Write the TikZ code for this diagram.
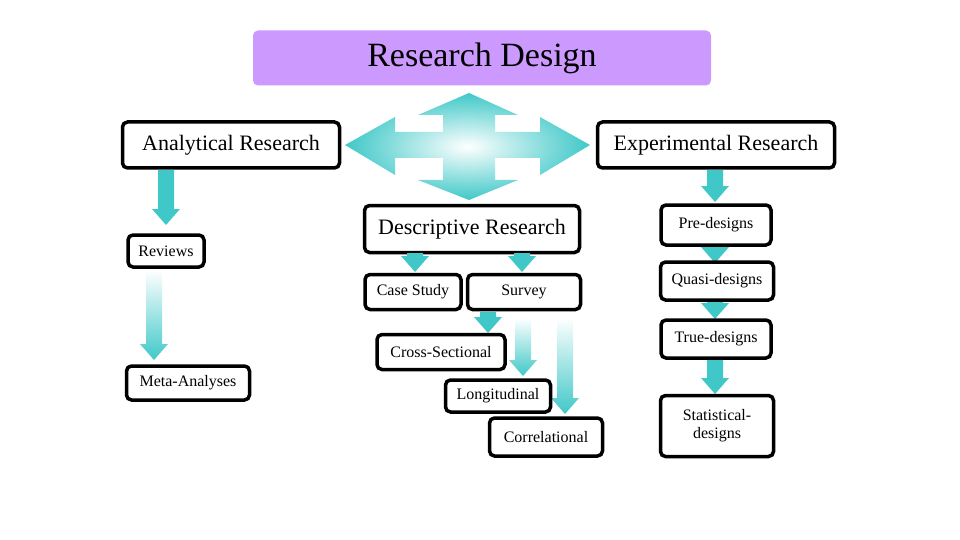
\documentclass[tikz,border=0pt]{standalone}
\usepackage{fontspec}
\setmainfont{Liberation Serif}
\definecolor{teal}{RGB}{64,200,200}
\definecolor{lilac}{RGB}{204,153,255}
\tikzset{
  box/.style={draw, line width=3.5pt, rounded corners=5pt, fill=white, inner sep=0pt, font=\fontsize{16}{18}\selectfont, align=center},
  bigbox/.style={box, font=\fontsize{22}{24}\selectfont},
  solidarrow/.style={fill=teal, draw=none},
  fadearrow/.style={top color=white, bottom color=teal, draw=none}
}
% block arrow pointing down: x, top y, bottom y, style
\newcommand{\downarrowblk}[4]{%
  \path[#4] (#1-8,#2) -- (#1+8,#2) -- (#1+8,#3-16) -- (#1+14,#3-16) -- (#1,#3) -- (#1-14,#3-16) -- (#1-8,#3-16) -- cycle;}
\begin{document}
\begin{tikzpicture}[x=1pt, y=-1pt]
  \useasboundingbox (0,0) rectangle (960,540);
  % title
  \node[fill=lilac, rounded corners=5pt, minimum width=458pt, minimum height=55pt, font=\fontsize{34}{36}\selectfont] (title) at (482,58) {Research Design};
  % four-way arrow
  \shade[inner color=white, outer color=teal]
    (345,145) -- (395,117) -- (395,132) -- (443,132) -- (443,115) -- (418,115) -- (469,93)
    -- (518,115) -- (495,115) -- (495,132) -- (540,132) -- (540,117) -- (590,145)
    -- (540,175) -- (540,158) -- (495,158) -- (495,180) -- (518,180) -- (469,200)
    -- (418,180) -- (443,180) -- (443,158) -- (395,158) -- (395,175) -- cycle;
  % main nodes
  \node[bigbox, minimum width=217pt, minimum height=46pt] (analytical) at (231,145) {Analytical Research};
  \node[bigbox, minimum width=237pt, minimum height=46pt] (experimental) at (716,145) {Experimental Research};
  \node[bigbox, minimum width=215pt, minimum height=47pt] (descriptive) at (472,229) {Descriptive Research};
  % left column
  \downarrowblk{166}{170}{225}{solidarrow}
  \downarrowblk{154}{270}{360}{fadearrow}
  \node[box, minimum width=76pt, minimum height=32pt] (reviews) at (166,251) {Reviews};
  \node[box, minimum width=123pt, minimum height=34pt] (meta) at (188,383) {Meta-Analyses};
  % descriptive branch
  \downarrowblk{415}{253}{272}{solidarrow}
  \downarrowblk{522}{253}{272}{solidarrow}
  \downarrowblk{488}{312}{333}{solidarrow}
  \downarrowblk{523}{318}{376}{fadearrow}
  \downarrowblk{565}{318}{414}{fadearrow}
  \node[box, minimum width=96pt, minimum height=35pt] (casestudy) at (413,292) {Case Study};
  \node[box, minimum width=113pt, minimum height=35pt] (survey) at (524,292) {Survey};
  \node[box, minimum width=128pt, minimum height=35pt] (cross) at (441,352) {Cross-Sectional};
  \node[box, minimum width=105pt, minimum height=32pt] (longitudinal) at (498,396) {Longitudinal};
  \node[box, minimum width=113pt, minimum height=38pt] (correlational) at (546,437) {Correlational};
  % experimental branch
  \downarrowblk{715}{170}{202}{solidarrow}
  \downarrowblk{715}{245}{263}{solidarrow}
  \downarrowblk{715}{300}{319}{solidarrow}
  \downarrowblk{715}{358}{394}{solidarrow}
  \node[box, minimum width=110pt, minimum height=40pt] (pre) at (716,225) {Pre-designs};
  \node[box, minimum width=113pt, minimum height=38pt] (quasi) at (717,281) {Quasi-designs};
  \node[box, minimum width=110pt, minimum height=38pt] (true) at (716,339) {True-designs};
  \node[box, minimum width=113pt, minimum height=61pt] (statistical) at (717,426) {Statistical-\\designs};
\end{tikzpicture}
\end{document}
